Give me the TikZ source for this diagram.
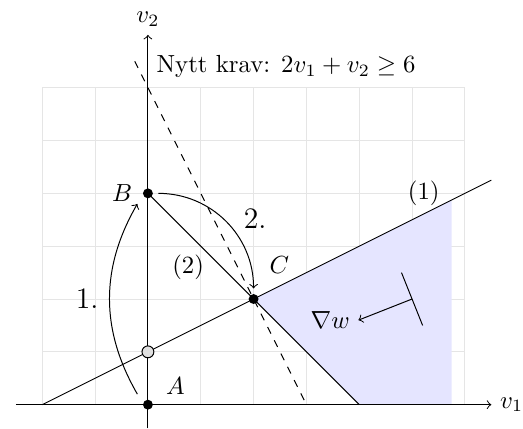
\documentclass[tikz,border=0pt]{standalone}
\usetikzlibrary{calc}
\begin{document}
\begin{tikzpicture}[x=0.75cm,y=0.75cm,>=to,
  dotnode/.style={circle,fill=black,inner sep=0pt,minimum size=4pt},
  opennode/.style={circle,draw=black,fill=black!12,inner sep=0pt,minimum size=4.8pt},
  gridline/.style={black!10},
  region/.style={blue!10}]
\useasboundingbox (-2.8,-0.45) rectangle (7.1,7.66);
\draw[gridline,step=0.75cm] (-2,0) grid (6,6);
\fill[region] (2,2) -- (4,0) -- (5.75,0) -- (5.75,3.875) -- cycle;
% positions
\coordinate (A) at (0,0);
\coordinate (B) at (0,4);
\coordinate (C) at (2,2);
\coordinate (D) at (0,1);
\coordinate (E) at (4,0);
\coordinate (L1s) at (-2,0);
\coordinate (L1e) at (6.5,4.25);
\coordinate (N1) at (-0.25,6.5);
\coordinate (N2) at (3,0);
\coordinate (X0) at (-2.5,0);
\coordinate (X1) at (6.5,0);
\coordinate (Y0) at (0,-0.45);
\coordinate (Y1) at (0,7);
% lines
\draw (L1s) -- (L1e);
\draw (B) -- (E);
\draw[dashed] (N1) -- (N2);
\draw[->] (X0) -- (X1) node[right] (v1lab) {$v_1$};
\draw[->] (Y0) -- (Y1) node[above] (v2lab) {$v_2$};
\node[right] (krav) at (0,6.4) {Nytt krav: $2v_1+v_2\geq 6$};
% gradient
\coordinate (G) at (5,2);
\coordinate (T1) at (4.8,2.5);
\coordinate (T2) at (5.2,1.5);
\draw (T1) -- (T2);
\node (grad) at (3.45,1.6) {$\nabla w$};
\draw[->] (G) -- (grad.east);
% arcs
\coordinate (a1) at (-0.2,0.2);
\coordinate (a2) at (-0.2,3.8);
\draw[->] (a1) to[bend left=30] (a2);
\coordinate (b1) at (0.2,4);
\coordinate (b2) at (2,2.2);
\draw[->] (b1) to[bend left=45] (b2);
% labels
\node (lab1) at (-1.15,2) {\large 1.};
\node (lab2) at (2.03,3.53) {\large 2.};
\node (labp2) at (0.76,2.6) {(2)};
\node (labp1) at (5.22,4.0) {(1)};
\node (labA) at (0.52,0.35) {$A$};
\node (labB) at (-0.49,4.0) {$B$};
\node (labC) at (2.49,2.65) {$C$};
% dots
\node[dotnode] (dA) at (A) {};
\node[dotnode] (dB) at (B) {};
\node[dotnode] (dC) at (C) {};
\node[opennode] (dD) at (D) {};
\end{tikzpicture}
\end{document}
